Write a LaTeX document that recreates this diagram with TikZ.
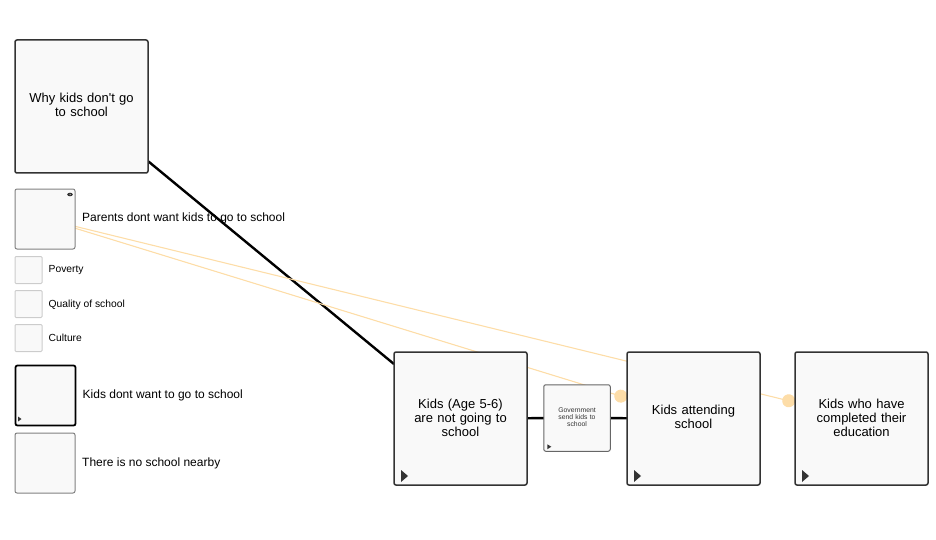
\documentclass[tikz,border=0pt]{standalone}
\usepackage{fontspec}
\setmainfont{Liberation Sans}
\usetikzlibrary{positioning,arrows.meta,backgrounds,calc}
\definecolor{boxfill}{HTML}{F9F9F9}
\definecolor{linkorange}{HTML}{FDDDA8}

\begin{document}
\begin{tikzpicture}[
  x=1pt,y=-1pt,
  box/.style={draw=black!80,line width=1.5pt,fill=boxfill,rounded corners=2pt,minimum size=133pt,inner sep=0pt,outer sep=0pt,text width=112pt,align=center,font=\fontsize{13}{14}\selectfont},
  factor/.style={draw=black!50,line width=1pt,fill=boxfill,rounded corners=2pt,minimum size=60pt,inner sep=0pt,outer sep=0pt},
  subfactor/.style={draw=black!20,line width=1pt,fill=boxfill,rounded corners=1pt,minimum size=27pt,inner sep=0pt,outer sep=0pt},
  caption/.style={right=7pt of #1,inner sep=0pt,font=\fontsize{12}{14}\selectfont},
  smallcaption/.style={right=7pt of #1,inner sep=0pt,font=\fontsize{10.3}{12}\selectfont},
  lift/.style={execute at end node={\endgraf\vspace{#1}}},
  link/.style={black,line width=2.4pt},
  influence/.style={linkorange,line width=1.1pt,-{Circle[length=13pt,width=13pt]}},
  play/.style={fill=black!80}
]
\useasboundingbox (0,0) rectangle (936,540);

% stages
\node[box,lift=4pt] (why) at (81.5,106.5) {Why kids don\textquotesingle t go\\to school};
\node[box,lift=2pt] (kidsout) at (460.5,418.5) {Kids (Age 5-6)\\are not going to\\school};
\node[box,lift=4pt] (attending) at (693.5,418.5) {Kids attending\\school};
\node[box,lift=2pt] (completed) at (861.5,418.5) {Kids who have\\completed their\\education};
\node[factor,draw=black!60,minimum size=66.5pt,text width=50pt,align=center,text=black!80,font=\fontsize{6.8}{7.2}\selectfont,lift=2pt] (government) at (577,418) {Government\\send kids to\\school};

% factors
\node[factor] (parents) at (45,219) {};
\node[caption=parents,yshift=0.3pt] (parentstext) {Parents dont want kids to go to school};
\node[subfactor] (poverty) at (28.5,270) {};
\node[smallcaption=poverty,xshift=-0.5pt,yshift=-0.5pt] (povertytext) {Poverty};
\node[subfactor] (quality) at (28.5,304) {};
\node[smallcaption=quality,xshift=-0.5pt,yshift=-0.5pt] (qualitytext) {Quality of school};
\node[subfactor] (culture) at (28.5,338) {};
\node[smallcaption=culture,xshift=-0.5pt,yshift=0.5pt] (culturetext) {Culture};
\node[factor,draw=black,line width=1.8pt] (kidsdont) at (45.5,395.5) {};
\node[caption=kidsdont,yshift=0.5pt] (kidsdonttext) {Kids dont want to go to school};
\node[factor] (nearby) at (45,463) {};
\node[caption=nearby] (nearbytext) {There is no school nearby};

% play marks
\fill[play] ($(kidsout.south west)+(7,-15)$) -- ++(7,6) -- ++(-7,6) -- cycle;
\fill[play] ($(attending.south west)+(7,-15)$) -- ++(7,6) -- ++(-7,6) -- cycle;
\fill[play] ($(completed.south west)+(7,-15)$) -- ++(7,6) -- ++(-7,6) -- cycle;
\fill[play] ($(government.south west)+(3.5,-7)$) -- ++(4,2.5) -- ++(-4,2.5) -- cycle;
\fill[play] ($(kidsdont.south west)+(2.5,-9)$) -- ++(3.5,2.5) -- ++(-3.5,2.5) -- cycle;

% eye
\fill[black!80] ($(parents.north east)+(-5,5.5)$) ellipse (2.8pt and 1.8pt);
\fill[white] ($(parents.north east)+(-5,5.5)$) circle (0.5pt);

\begin{scope}[on background layer]
\draw[link] (why) -- (kidsout);
\draw[link] (kidsout) -- (government);
\draw[link] (government) -- (attending);
\draw[influence] (parents) -- (attending);
\draw[influence] (parents) -- (completed);
\end{scope}
\end{tikzpicture}
\end{document}
